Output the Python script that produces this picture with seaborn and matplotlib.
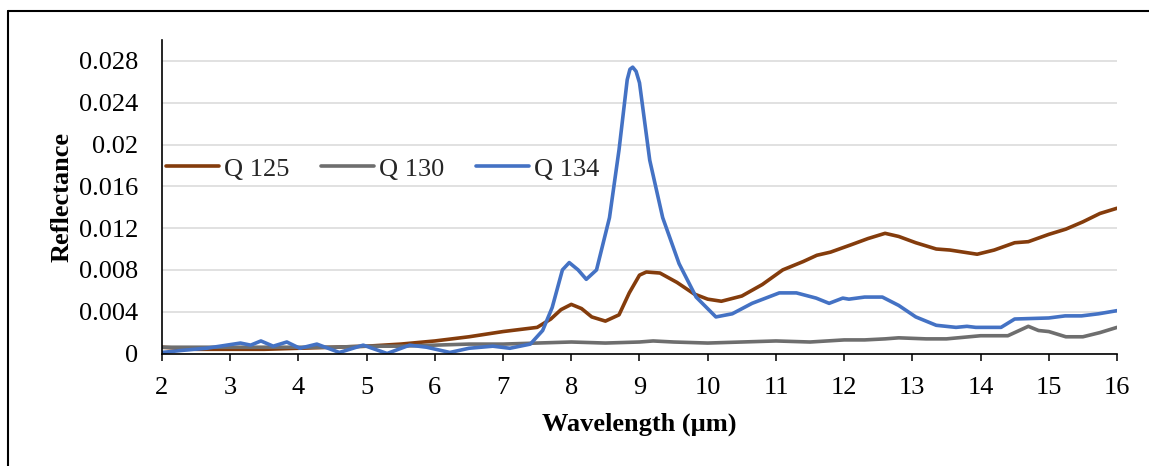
import numpy as np
import pandas as pd
import seaborn as sns
import matplotlib
matplotlib.use("Agg")
import matplotlib.pyplot as plt
from matplotlib.lines import Line2D

# ---- spectra (wavelength in µm, reflectance) ----
q125_wl = [2.0, 2.5, 3.0, 3.5, 4.0, 4.5, 5.0, 5.5, 6.0, 6.5, 7.0, 7.5, 7.7, 7.85,
           8.0, 8.15, 8.3, 8.5, 8.7, 8.85, 9.0, 9.1, 9.3, 9.55, 9.8, 10.0, 10.2,
           10.5, 10.8, 11.1, 11.4, 11.6, 11.8, 12.1, 12.35, 12.6, 12.8, 13.05,
           13.35, 13.55, 13.75, 13.95, 14.2, 14.5, 14.7, 15.0, 15.25, 15.5,
           15.75, 16.0]
q125_refl = [0.0006, 0.0004, 0.0004, 0.0004, 0.0005, 0.0006, 0.0007, 0.0009,
             0.0012, 0.0016, 0.0021, 0.0025, 0.0033, 0.0042, 0.0047, 0.0043,
             0.0035, 0.0031, 0.0037, 0.0058, 0.0075, 0.0078, 0.0077, 0.0068,
             0.0057, 0.0052, 0.0050, 0.0055, 0.0066, 0.0080, 0.0088, 0.0094,
             0.0097, 0.0104, 0.0110, 0.0115, 0.0112, 0.0106, 0.0100, 0.0099,
             0.0097, 0.0095, 0.0099, 0.0106, 0.0107, 0.0114, 0.0119, 0.0126,
             0.0134, 0.0139]

q130_wl = [2.0, 2.5, 3.0, 3.5, 4.0, 4.5, 5.0, 5.5, 6.0, 6.5, 7.0, 7.5, 8.0, 8.5,
           9.0, 9.2, 9.5, 10.0, 10.5, 11.0, 11.5, 12.0, 12.3, 12.6, 12.8, 13.2,
           13.5, 14.0, 14.4, 14.7, 14.85, 15.0, 15.25, 15.5, 15.75, 16.0]
q130_refl = [0.0006, 0.0006, 0.0006, 0.0006, 0.0006, 0.0006, 0.0007, 0.0007,
             0.0008, 0.0009, 0.0009, 0.0010, 0.0011, 0.0010, 0.0011, 0.0012,
             0.0011, 0.0010, 0.0011, 0.0012, 0.0011, 0.0013, 0.0013, 0.0014,
             0.0015, 0.0014, 0.0014, 0.0017, 0.0017, 0.0026, 0.0022, 0.0021,
             0.0016, 0.0016, 0.0020, 0.0025]

q134_wl = [2.0, 2.3, 2.65, 2.95, 3.15, 3.3, 3.45, 3.63, 3.83, 4.02, 4.27, 4.6,
           4.95, 5.3, 5.63, 5.88, 6.22, 6.5, 6.85, 7.1, 7.4, 7.58, 7.72, 7.87,
           7.97, 8.1, 8.22, 8.37, 8.56, 8.7, 8.82, 8.86, 8.9, 8.95, 9.0, 9.15,
           9.34, 9.58, 9.83, 10.12, 10.36, 10.65, 11.05, 11.3, 11.59, 11.78,
           11.98, 12.07, 12.3, 12.56, 12.8, 13.05, 13.35, 13.64, 13.8, 13.93,
           14.3, 14.5, 15.0, 15.24, 15.48, 15.73, 16.0]
q134_refl = [0.0001, 0.0003, 0.0005, 0.0008, 0.0010, 0.0008, 0.0012, 0.0007,
             0.0011, 0.0005, 0.0009, 0.0001, 0.0008, 0.0000, 0.0008, 0.0006,
             0.0001, 0.0005, 0.0007, 0.0005, 0.0009, 0.0022, 0.0044, 0.0080,
             0.0087, 0.0080, 0.0071, 0.0080, 0.0130, 0.0195, 0.0262, 0.0272,
             0.0274, 0.0270, 0.0259, 0.0185, 0.0130, 0.0086, 0.0054, 0.0035,
             0.0038, 0.0048, 0.0058, 0.0058, 0.0053, 0.0048, 0.0053, 0.0052,
             0.0054, 0.0054, 0.0046, 0.0035, 0.0027, 0.0025, 0.0026, 0.0025,
             0.0025, 0.0033, 0.0034, 0.0036, 0.0036, 0.0038, 0.0041]

sample_names = ["Q 125", "Q 130", "Q 134"]
sample_colors = ["#843C0C", "#6E6E6E", "#4472C4"]
x_ticks = list(range(2, 17))
y_ticks = [0, 0.004, 0.008, 0.012, 0.016, 0.02, 0.024, 0.028]
y_tick_labels = ["0", "0.004", "0.008", "0.012", "0.016", "0.02", "0.024", "0.028"]

# long-form table for seaborn
frames = []
for name, wl, refl in zip(sample_names,
                          [q125_wl, q130_wl, q134_wl],
                          [q125_refl, q130_refl, q134_refl]):
    frames.append(pd.DataFrame({"Wavelength": wl, "Reflectance": refl, "Sample": name}))
df = pd.concat(frames, ignore_index=True)

sns.set_theme(style="white")
plt.rcParams["font.family"] = ["Liberation Serif", "DejaVu Serif"]

FS = 19
W, H = 1149, 466
fig = plt.figure(figsize=(W / 100, H / 100), dpi=100)
ax = fig.add_axes([162 / W, 1 - 353.5 / H, (1117 - 162) / W, (353.5 - 40) / H])

ax.yaxis.grid(True, color="#D9D9D9", linewidth=1.1, zorder=0)
ax.set_axisbelow(True)

sns.lineplot(data=df, x="Wavelength", y="Reflectance", hue="Sample",
             hue_order=sample_names, palette=dict(zip(sample_names, sample_colors)),
             estimator=None, sort=True, linewidth=2.6, ax=ax, legend=False)

ax.set_xlim(2, 16)
ax.set_ylim(0, 0.030)
ax.set_xticks(x_ticks)
ax.set_xticklabels([str(t) for t in x_ticks])
ax.set_yticks(y_ticks)
ax.set_yticklabels(y_tick_labels)

for side in ("top", "right"):
    ax.spines[side].set_visible(False)
for side in ("left", "bottom"):
    ax.spines[side].set_color("black")
    ax.spines[side].set_linewidth(1.2)

ax.tick_params(axis="x", direction="out", length=5, width=1.1, color="black",
               labelsize=FS, pad=12, bottom=True)
ax.tick_params(axis="y", length=0, labelsize=FS, pad=17)
for lab in ax.get_xticklabels() + ax.get_yticklabels():
    lab.set_color("black")

ax.set_xlabel("Wavelength (µm)", fontsize=FS, fontweight="bold", color="black", labelpad=10)
ax.set_ylabel("Reflectance", fontsize=FS, fontweight="bold", color="black", labelpad=4)

handles = [Line2D([0], [0], color=c, linewidth=2.6) for c in sample_colors]
fig.legend(handles, sample_names, loc="center left",
           bbox_to_anchor=(166 / W, 1 - 169 / H), ncol=3, frameon=False,
           fontsize=FS, handlelength=2.0, handletextpad=0.2,
           columnspacing=1.2, borderpad=0, borderaxespad=0)

# outer frame (left and top edges)
fig.add_artist(Line2D([7.5 / W, 7.5 / W], [0, 1 - 11 / H], color="black",
                      linewidth=1.5, transform=fig.transFigure))
fig.add_artist(Line2D([7.5 / W, 1], [1 - 11 / H, 1 - 11 / H], color="black",
                      linewidth=1.5, transform=fig.transFigure))

fig.savefig("out.png", dpi=100)
